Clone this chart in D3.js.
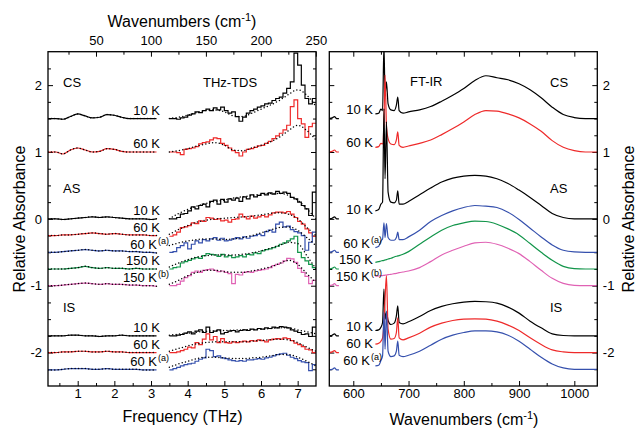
<!DOCTYPE html>
<html>
<head>
<meta charset="utf-8">
<script src="https://cdn.jsdelivr.net/npm/d3@7"></script>
<style>
  body { margin: 0; background: #fff; }
  text { font-family: "Liberation Sans", Arial, Helvetica, sans-serif; fill: #000; }
</style>
</head>
<body>
<svg id="chart" width="636" height="431"></svg>
<script>
// ---------- THz-TDS data (frequency in THz, relative absorbance with offsets) ----------
const thzLow = [0.19, 0.4, 0.6, 0.8, 1.0, 1.2, 1.4, 1.6, 1.8, 2.0, 2.2, 2.4, 2.6, 2.8, 3.0, 3.15];
const thzBins = [3.5,3.6,3.7,3.8,3.9,4.0,4.1,4.2,4.3,4.4,4.5,4.6,4.7,4.8,4.9,5.0,5.1,5.2,5.3,5.4,
                 5.5,5.6,5.7,5.8,5.9,6.0,6.1,6.2,6.3,6.4,6.5,6.6,6.7,6.8,6.9,7.0,7.1,7.2,7.3,7.4];
const thzBinEnd = 7.5;
const thzFit = [3.5,3.75,4.0,4.25,4.5,4.75,5.0,5.25,5.5,5.75,6.0,6.25,6.5,6.75,7.0,7.25,7.5];

const cs10Low  = [1.50,1.50,1.49,1.53,1.57,1.54,1.51,1.52,1.56,1.55,1.52,1.50,1.50,1.50,1.50,1.50];
const cs60Low  = [1.00,1.00,0.97,1.03,1.06,1.03,1.00,1.01,1.05,1.04,1.01,1.00,1.00,1.00,1.00,1.00];
const as10Low  = [0.00,0.00,-0.01,0.00,0.01,0.02,0.03,0.02,0.03,0.02,0.01,0.00,0.00,0.00,-0.01,0.00];
const as60Low  = [-0.25,-0.25,-0.24,-0.24,-0.23,-0.22,-0.21,-0.22,-0.23,-0.22,-0.23,-0.24,-0.24,-0.24,-0.25,-0.25];
const as60aLow = [-0.50,-0.50,-0.49,-0.48,-0.47,-0.46,-0.47,-0.48,-0.47,-0.48,-0.48,-0.49,-0.49,-0.50,-0.50,-0.51];
const as150Low = [-0.75,-0.75,-0.75,-0.74,-0.73,-0.71,-0.73,-0.74,-0.73,-0.74,-0.74,-0.75,-0.74,-0.75,-0.75,-0.75];
const as150bLow= [-1.00,-1.00,-0.99,-0.98,-0.97,-0.96,-0.97,-0.98,-0.97,-0.98,-0.98,-0.99,-0.99,-1.00,-1.00,-1.01];
const is10Low  = [-1.75,-1.75,-1.75,-1.74,-1.74,-1.75,-1.75,-1.76,-1.75,-1.75,-1.74,-1.75,-1.75,-1.75,-1.75,-1.75];
const is60Low  = [-2.00,-2.00,-1.99,-1.99,-1.98,-1.98,-1.99,-1.99,-1.98,-1.99,-1.99,-2.00,-2.00,-2.00,-2.00,-2.00];
const is60aLow = [-2.26,-2.26,-2.25,-2.24,-2.24,-2.24,-2.25,-2.25,-2.24,-2.25,-2.25,-2.25,-2.25,-2.26,-2.26,-2.26];

const cs10Step = [1.50,1.50,1.49,1.51,1.52,1.55,1.57,1.60,1.59,1.62, 1.64,1.62,1.66,1.63,1.67,1.62,1.58,1.60,1.53,1.46,
                  1.52,1.58,1.62,1.64,1.67,1.69,1.72,1.73,1.77,1.80, 1.82,1.88,1.95,2.05,2.48,2.30,2.00,1.80,1.72,1.80];
const cs60Step = [1.00,1.00,0.99,0.96,1.04,1.05,1.06,1.08,1.12,1.14, 1.15,1.18,1.21,1.20,1.13,1.10,1.06,1.02,0.99,0.94,
                  1.00,1.04,1.05,1.07,1.09,1.10,1.13,1.16,1.20,1.24, 1.28,1.33,1.40,1.68,1.78,1.50,1.42,1.22,1.38,1.43];
const as10Step = [0.00,0.00,0.02,0.07,0.08,0.12,0.18,0.15,0.20,0.22, 0.18,0.26,0.28,0.22,0.29,0.25,0.30,0.28,0.31,0.26,
                  0.33,0.30,0.36,0.33,0.35,0.38,0.36,0.39,0.37,0.41, 0.38,0.40,0.38,0.32,0.30,0.25,0.20,0.15,0.05,0.40];
const as60Step = [-0.26,-0.24,-0.20,-0.13,-0.12,-0.10,-0.06,-0.07,-0.03,-0.04, 0.02,0.01,-0.01,0.00,-0.03,-0.02,-0.05,-0.01,0.00,0.07,
                  0.03,0.00,0.04,0.01,0.03,0.05,0.03,0.06,0.09,0.10, 0.10,0.09,0.11,0.07,0.02,-0.04,-0.08,-0.15,-0.21,-0.26];
const as60aStep= [-0.50,-0.49,-0.43,-0.40,-0.36,-0.45,-0.38,-0.33,-0.36,-0.31, -0.33,-0.30,-0.28,-0.32,-0.29,-0.33,-0.32,-0.30,-0.28,-0.30,
                  -0.27,-0.29,-0.26,-0.25,-0.23,-0.25,-0.19,-0.17,-0.20,-0.08, -0.05,-0.12,-0.11,-0.16,-0.19,-0.21,-0.25,-0.47,-0.35,-0.20];
const as150Step= [-0.75,-0.73,-0.72,-0.66,-0.64,-0.62,-0.60,-0.58,-0.59,-0.55, -0.52,-0.53,-0.54,-0.56,-0.53,-0.57,-0.55,-0.58,-0.57,-0.55,
                  -0.57,-0.53,-0.54,-0.51,-0.52,-0.48,-0.46,-0.45,-0.43,-0.41, -0.38,-0.36,-0.33,-0.30,-0.26,-0.50,-0.58,-0.63,-0.68,-0.73];
const as150bStep=[-1.00,-1.00,-0.98,-0.93,-0.88,-0.85,-0.80,-0.78,-0.80,-0.77, -0.76,-0.75,-0.77,-0.79,-0.78,-0.80,-0.82,-0.97,-0.83,-0.84,
                  -0.80,-0.79,-0.80,-0.78,-0.77,-0.76,-0.75,-0.73,-0.70,-0.68, -0.66,-0.63,-0.59,-0.60,-0.65,-0.74,-0.80,-0.86,-0.97,-0.92];
const is10Step = [-1.75,-1.75,-1.74,-1.73,-1.71,-1.69,-1.72,-1.68,-1.66,-1.70, -1.62,-1.70,-1.68,-1.66,-1.72,-1.70,-1.68,-1.67,-1.69,-1.67,
                  -1.66,-1.67,-1.65,-1.66,-1.64,-1.65,-1.63,-1.64,-1.62,-1.63, -1.61,-1.62,-1.63,-1.66,-1.68,-1.70,-1.73,-1.72,-1.76,-1.62];
const is60Step = [-2.00,-2.00,-1.99,-1.97,-1.95,-1.92,-1.93,-1.85,-1.88,-1.80, -1.72,-1.81,-1.76,-1.85,-1.79,-1.85,-1.86,-1.84,-1.85,-1.84,
                  -1.83,-1.84,-1.82,-1.83,-1.81,-1.82,-1.84,-1.81,-1.80,-1.79, -1.80,-1.78,-1.79,-1.82,-1.86,-1.88,-1.91,-1.95,-1.96,-2.00];
const is60aStep= [-2.26,-2.24,-2.22,-2.20,-2.18,-2.17,-2.16,-2.13,-2.10,-2.08, -1.95,-1.97,-2.06,-2.05,-2.08,-2.09,-2.11,-2.12,-2.13,-2.12,
                  -2.13,-2.11,-2.11,-2.10,-2.09,-2.10,-2.08,-2.07,-2.05,-2.03, -2.02,-2.01,-2.04,-2.07,-2.09,-2.12,-2.14,-2.15,-2.27,-2.18];

// model fits (dotted)
const cs10Fit  = [1.50,1.52,1.55,1.59,1.62,1.63,1.60,1.54,1.53,1.58,1.64,1.70,1.77,1.86,1.93,1.85,1.68];
const cs60Fit  = [1.00,1.02,1.05,1.09,1.12,1.14,1.10,1.03,1.02,1.06,1.10,1.15,1.22,1.32,1.40,1.32,1.18];
const as10Fit  = [0.00,0.08,0.14,0.19,0.23,0.26,0.28,0.31,0.33,0.35,0.37,0.38,0.38,0.35,0.28,0.15,0.00];
const as60Fit  = [-0.23,-0.16,-0.10,-0.05,-0.02,0.00,0.01,0.02,0.03,0.04,0.06,0.08,0.09,0.07,0.00,-0.13,-0.25];
const as60aFit = [-0.40,-0.36,-0.33,-0.31,-0.30,-0.30,-0.31,-0.30,-0.28,-0.25,-0.21,-0.17,-0.13,-0.12,-0.17,-0.28,-0.40];
const as150Fit = [-0.72,-0.66,-0.61,-0.57,-0.55,-0.54,-0.54,-0.54,-0.53,-0.51,-0.48,-0.44,-0.40,-0.35,-0.37,-0.55,-0.75];
const as150bFit= [-0.98,-0.92,-0.85,-0.80,-0.77,-0.77,-0.79,-0.80,-0.80,-0.78,-0.75,-0.72,-0.67,-0.62,-0.68,-0.82,-0.95];
const is10Fit  = [-1.74,-1.725,-1.71,-1.695,-1.68,-1.675,-1.67,-1.665,-1.66,-1.655,-1.65,-1.64,-1.63,-1.63,-1.66,-1.69,-1.72];
const is60Fit  = [-1.98,-1.94,-1.90,-1.87,-1.85,-1.84,-1.84,-1.84,-1.84,-1.83,-1.82,-1.81,-1.80,-1.81,-1.85,-1.92,-1.98];
const is60aFit = [-2.22,-2.17,-2.13,-2.09,-2.07,-2.07,-2.08,-2.09,-2.09,-2.08,-2.07,-2.05,-2.03,-2.03,-2.07,-2.13,-2.20];

// ---------- FT-IR data (wavenumber in cm^-1) ----------
const stubWn = [556.6, 562, 566, 570, 574];
const ftirWn = [640,646,650,653,655.5,657.5,660,663,668,674,678,680.5,683,690,700,720,740,760,780,800,
                820,840,860,880,900,920,940,960,980,1000,1020,1042];

const cs10Stub  = [1.50,1.51,1.53,1.50,1.50];
const cs60Stub  = [1.00,1.01,1.03,1.00,1.00];
const as10Stub  = [0.00,0.01,0.03,0.00,0.00];
const as60aStub = [-0.50,-0.49,-0.47,-0.50,-0.50];
const as150Stub = [-0.75,-0.74,-0.72,-0.75,-0.75];
const as150bStub= [-1.00,-0.99,-0.97,-1.00,-1.00];
const is10Stub  = [-1.75,-1.74,-1.72,-1.75,-1.75];
const is60Stub  = [-2.00,-1.99,-1.97,-2.00,-2.00];
const is60aStub = [-2.26,-2.25,-2.23,-2.26,-2.26];

const cs10Ftir  = [1.57,1.58,1.64,1.62,2.60,1.85,2.05,1.72,1.63,1.62,1.70,1.82,1.62,1.58,1.60,1.63,1.68,1.76,1.85,1.95,
                   2.07,2.14,2.11,2.08,2.02,1.93,1.81,1.67,1.56,1.515,1.50,1.50];
const cs60Ftir  = [1.07,1.08,1.13,1.12,1.45,2.15,1.40,1.20,1.12,1.11,1.18,1.30,1.10,1.07,1.09,1.13,1.18,1.26,1.35,1.45,
                   1.56,1.62,1.61,1.57,1.51,1.42,1.31,1.17,1.07,1.02,1.00,1.00];
const as10Ftir  = [0.12,0.14,0.22,0.25,1.65,0.60,1.45,0.40,0.25,0.24,0.28,0.42,0.22,0.22,0.26,0.36,0.46,0.55,0.61,0.64,
                   0.65,0.64,0.60,0.53,0.43,0.32,0.20,0.08,0.02,0.00,0.00,0.00];
const as60aFtir = [-0.43,-0.41,-0.33,-0.30,-0.06,-0.28,-0.07,-0.28,-0.32,-0.32,-0.28,-0.20,-0.31,-0.31,-0.27,-0.17,-0.04,0.05,0.12,0.17,
                   0.20,0.19,0.17,0.10,-0.01,-0.14,-0.27,-0.39,-0.47,-0.495,-0.50,-0.50];
const as150Ftir = [-0.65,-0.64,-0.63,-0.625,-0.62,-0.615,-0.61,-0.60,-0.59,-0.57,-0.56,-0.555,-0.55,-0.53,-0.49,-0.38,-0.27,-0.17,-0.10,-0.06,
                   -0.035,-0.04,-0.08,-0.15,-0.24,-0.37,-0.50,-0.62,-0.71,-0.745,-0.75,-0.75];
const as150bFtir= [-0.86,-0.855,-0.85,-0.848,-0.845,-0.843,-0.84,-0.835,-0.83,-0.82,-0.815,-0.81,-0.805,-0.795,-0.78,-0.73,-0.64,-0.54,-0.47,-0.41,
                   -0.36,-0.35,-0.38,-0.44,-0.52,-0.64,-0.77,-0.89,-0.965,-0.995,-1.00,-1.00];
const is10Ftir  = [-1.67,-1.66,-1.62,-1.55,-1.05,-1.50,-1.40,-1.52,-1.58,-1.56,-1.45,-1.30,-1.55,-1.57,-1.54,-1.46,-1.37,-1.31,-1.27,-1.245,
                   -1.235,-1.24,-1.26,-1.32,-1.41,-1.53,-1.63,-1.72,-1.745,-1.75,-1.75,-1.75];
const is60Ftir  = [-1.875,-1.86,-1.83,-1.78,-1.55,-1.20,-0.85,-1.65,-1.80,-1.79,-1.70,-1.48,-1.78,-1.81,-1.78,-1.71,-1.62,-1.56,-1.52,-1.50,
                   -1.495,-1.50,-1.53,-1.59,-1.67,-1.78,-1.88,-1.96,-1.99,-2.00,-2.00,-2.00];
const is60aFtir = [-2.20,-2.19,-2.12,-2.05,-1.40,-1.95,-1.38,-1.98,-2.06,-2.05,-1.98,-1.83,-2.04,-2.06,-2.04,-1.98,-1.89,-1.80,-1.74,-1.70,
                   -1.675,-1.675,-1.69,-1.74,-1.83,-1.95,-2.07,-2.17,-2.23,-2.25,-2.25,-2.25];

// ---------- series description ----------
const seriesLabels  = ["10 K","60 K","10 K","60 K","60 K","150 K","150 K","10 K","60 K","60 K"];
const seriesSup     = ["","","","","(a)","","(b)","","","(a)"];
const seriesOffsets = [1.5, 1.0, 0, -0.25, -0.5, -0.75, -1.0, -1.75, -2.0, -2.25];
const sampleNames   = ["CS","AS","IS"];
const sampleTicks   = [-2,-1,0,1,2];

const BLACK = "#000000", RED = "#ee2a2a", BLUE = "#3550ad", GREEN = "#12954a", PINK = "#e062b4";

const series = [
  {color: BLACK, low: cs10Low,  step: cs10Step,  fit: cs10Fit,  ftir: cs10Ftir,  stub: cs10Stub},
  {color: RED,   low: cs60Low,  step: cs60Step,  fit: cs60Fit,  ftir: cs60Ftir,  stub: cs60Stub},
  {color: BLACK, low: as10Low,  step: as10Step,  fit: as10Fit,  ftir: as10Ftir,  stub: as10Stub},
  {color: RED,   low: as60Low,  step: as60Step,  fit: as60Fit,  ftir: null,      stub: null},
  {color: BLUE,  low: as60aLow, step: as60aStep, fit: as60aFit, ftir: as60aFtir, stub: as60aStub},
  {color: GREEN, low: as150Low, step: as150Step, fit: as150Fit, ftir: as150Ftir, stub: as150Stub},
  {color: PINK,  low: as150bLow,step: as150bStep,fit: as150bFit,ftir: as150bFtir,stub: as150bStub},
  {color: BLACK, low: is10Low,  step: is10Step,  fit: is10Fit,  ftir: is10Ftir,  stub: is10Stub},
  {color: RED,   low: is60Low,  step: is60Step,  fit: is60Fit,  ftir: is60Ftir,  stub: is60Stub},
  {color: BLUE,  low: is60aLow, step: is60aStep, fit: is60aFit, ftir: is60aFtir, stub: is60aStub}
].map((s, i) => Object.assign(s, {label: seriesLabels[i], sup: seriesSup[i], offset: seriesOffsets[i]}));

// ---------- layout & scales ----------
const svg = d3.select("#chart");
const LP = {x0: 48, x1: 316, y0: 51.7, y1: 386};
const RP = {x0: 329.3, x1: 597.3, y0: 51.7, y1: 386};
const CM_PER_THZ = 33.3564;

const y   = d3.scaleLinear().domain([-2.5, 2.5]).range([LP.y1, LP.y0]);
const xT  = d3.scaleLinear().domain([0.19, 7.5]).range([LP.x0, LP.x1]);
const xC  = d3.scaleLinear().domain([0.19 * CM_PER_THZ, 7.5 * CM_PER_THZ]).range([LP.x0, LP.x1]);
const xW  = d3.scaleLinear().domain([556.6, 1041.6]).range([RP.x0, RP.x1]);

const defs = svg.append("defs");
defs.append("clipPath").attr("id", "clipL").append("rect")
  .attr("x", LP.x0).attr("y", LP.y0).attr("width", LP.x1 - LP.x0).attr("height", LP.y1 - LP.y0);
defs.append("clipPath").attr("id", "clipR").append("rect")
  .attr("x", RP.x0).attr("y", RP.y0).attr("width", RP.x1 - RP.x0).attr("height", RP.y1 - RP.y0);

// ---------- axes ----------
function drawAxis(gen, transform, values, size, padding, labelled) {
  const a = gen.tickValues(values).tickSize(size).tickSizeOuter(0).tickPadding(padding)
    .tickFormat(labelled ? (d => String(d)) : "");
  const g = svg.append("g").attr("transform", transform).call(a);
  g.select(".domain").remove();
  g.selectAll(".tick line").attr("stroke", "#000").attr("stroke-width", 1);
  g.selectAll("text").attr("font-size", 13).attr("fill", "#000")
    .style("font-family", '"Liberation Sans", Arial, sans-serif');
  return g;
}
const yMinor = [-2.25,-1.75,-1.5,-1.25,-0.75,-0.5,-0.25,0.25,0.5,0.75,1.25,1.5,1.75,2.25];

// left panel
drawAxis(d3.axisBottom(xT), `translate(0,${LP.y1})`, [1,2,3,4,5,6,7], -5, 3, true);
drawAxis(d3.axisBottom(xT), `translate(0,${LP.y1})`, [0.5,1.5,2.5,3.5,4.5,5.5,6.5], -3, 3, false);
drawAxis(d3.axisTop(xC), `translate(0,${LP.y0})`, [50,100,150,200,250], -5, 6.5, true);
drawAxis(d3.axisTop(xC), `translate(0,${LP.y0})`, [25,75,125,175,225], -3, 6.5, false);
drawAxis(d3.axisLeft(y), `translate(${LP.x0},0)`, sampleTicks, -5, 6, true);
drawAxis(d3.axisLeft(y), `translate(${LP.x0},0)`, yMinor, -3, 6, false);
drawAxis(d3.axisRight(y), `translate(${LP.x1},0)`, sampleTicks, -5, 6, false);
drawAxis(d3.axisRight(y), `translate(${LP.x1},0)`, yMinor, -3, 6, false);

// right panel
drawAxis(d3.axisBottom(xW), `translate(0,${RP.y1})`, [600,700,800,900,1000], -5, 3, true);
drawAxis(d3.axisBottom(xW), `translate(0,${RP.y1})`, [650,750,850,950], -3, 3, false);
drawAxis(d3.axisTop(xW), `translate(0,${RP.y0})`, [600,700,800,900,1000], -5, 6, false);
drawAxis(d3.axisTop(xW), `translate(0,${RP.y0})`, [650,750,850,950], -3, 6, false);
drawAxis(d3.axisLeft(y), `translate(${RP.x0},0)`, sampleTicks, -5, 6, false);
drawAxis(d3.axisLeft(y), `translate(${RP.x0},0)`, yMinor, -3, 6, false);
drawAxis(d3.axisRight(y), `translate(${RP.x1},0)`, sampleTicks, -5, 5.5, true);
drawAxis(d3.axisRight(y), `translate(${RP.x1},0)`, yMinor, -3, 5.5, false);

// ---------- traces ----------
const lineLow  = d3.line().x(d => xT(d[0])).y(d => y(d[1])).curve(d3.curveMonotoneX);
const lineStep = d3.line().x(d => xT(d[0])).y(d => y(d[1])).curve(d3.curveStepAfter);
const lineFit  = d3.line().x(d => xT(d[0])).y(d => y(d[1])).curve(d3.curveMonotoneX);
const lineIR   = d3.line().x(d => xW(d[0])).y(d => y(d[1])).curve(d3.curveMonotoneX);

const gL = svg.append("g").attr("clip-path", "url(#clipL)");
const gR = svg.append("g").attr("clip-path", "url(#clipR)");

const dotted = sel => sel.attr("fill", "none").attr("stroke", "#000").attr("stroke-width", 1.5)
  .attr("stroke-linecap", "round").attr("stroke-dasharray", "0,3.4");

series.forEach(s => {
  const low = thzLow.map((f, i) => [f, s.low[i]]);
  const steps = thzBins.map((f, i) => [f, s.step[i]]);
  steps.push([thzBinEnd, s.step[s.step.length - 1]]);
  const fit = thzFit.map((f, i) => [f, s.fit[i]]);

  gL.append("path").attr("d", lineLow(low)).attr("fill", "none")
    .attr("stroke", s.color).attr("stroke-width", 1.2);
  gL.append("path").attr("d", lineStep(steps)).attr("fill", "none")
    .attr("stroke", s.color).attr("stroke-width", 1.2).attr("stroke-linejoin", "miter");
  gL.append("path").attr("d", lineLow(low)).call(dotted);
  gL.append("path").attr("d", lineFit(fit)).call(dotted);

  if (s.stub) {
    gR.append("path").attr("d", lineIR(stubWn.map((w, i) => [w, s.stub[i]])))
      .attr("fill", "none").attr("stroke", s.color).attr("stroke-width", 1.2);
  }
  if (s.ftir) {
    gR.append("path").attr("d", lineIR(ftirWn.map((w, i) => [w, s.ftir[i]])))
      .attr("fill", "none").attr("stroke", s.color).attr("stroke-width", 1.2);
  }
});

// ---------- frames ----------
[LP, RP].forEach(p => {
  svg.append("rect").attr("x", p.x0).attr("y", p.y0)
    .attr("width", p.x1 - p.x0).attr("height", p.y1 - p.y0)
    .attr("fill", "none").attr("stroke", "#000").attr("stroke-width", 1.3);
});

// ---------- temperature labels ----------
function tempLabel(xEnd, yb, s) {
  const endX = s.sup ? xEnd - 3 : xEnd;
  svg.append("text").attr("x", endX).attr("y", yb).attr("text-anchor", "end")
    .attr("font-size", 13).text(s.label);
  if (s.sup) {
    svg.append("text").attr("x", endX + 1).attr("y", yb - 5).attr("font-size", 9).text(s.sup);
  }
}
series.forEach(s => {
  tempLabel(160, y(s.offset) - 3.5, s);
  if (s.ftir) tempLabel(373, y(s.offset) - 4.5, s);
});

// ---------- sample & technique labels ----------
const sampleY = [87, 193, 312];
sampleNames.forEach((n, i) => {
  svg.append("text").attr("x", 63).attr("y", sampleY[i]).attr("font-size", 13).text(n);
  svg.append("text").attr("x", 550).attr("y", sampleY[i]).attr("font-size", 13).text(n);
});
svg.append("text").attr("x", 203).attr("y", 87).attr("font-size", 13).text("THz-TDS");
svg.append("text").attr("x", 410).attr("y", 86).attr("font-size", 13).text("FT-IR");

// ---------- axis titles ----------
function wavenumberTitle(x, yb) {
  const t = svg.append("text").attr("x", x).attr("y", yb).attr("text-anchor", "middle").attr("font-size", 16);
  t.append("tspan").text("Wavenumbers (cm");
  t.append("tspan").attr("font-size", 11).attr("dy", -6).text("-1");
  t.append("tspan").attr("dy", 6).text(")");
}
wavenumberTitle(182, 27);
wavenumberTitle(464, 425);
svg.append("text").attr("x", 182.5).attr("y", 421.5).attr("text-anchor", "middle")
  .attr("font-size", 16).text("Frequency (THz)");
svg.append("text").attr("transform", "translate(25,219) rotate(-90)").attr("text-anchor", "middle")
  .attr("font-size", 16).text("Relative Absorbance");
svg.append("text").attr("transform", "translate(634,219) rotate(-90)").attr("text-anchor", "middle")
  .attr("font-size", 16).text("Relative Absorbance");
</script>
</body>
</html>
